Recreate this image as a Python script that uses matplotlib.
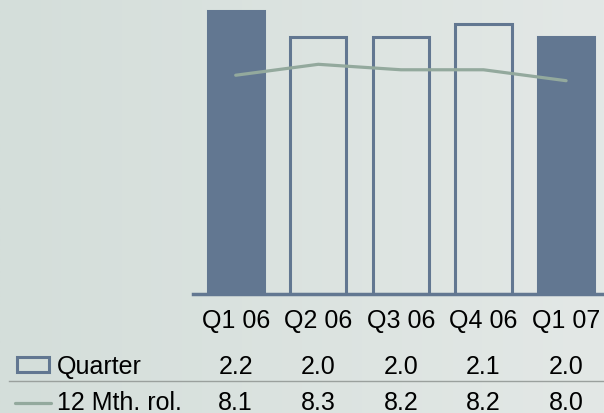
import numpy as np
import matplotlib
matplotlib.use('Agg')
import matplotlib.pyplot as plt
from matplotlib.patches import Rectangle
from matplotlib.lines import Line2D
from matplotlib.transforms import blended_transform_factory

quarters = ['Q1 06', 'Q2 06', 'Q3 06', 'Q4 06', 'Q1 07']
quarter_vals = [2.2, 2.0, 2.0, 2.1, 2.0]
rolling_vals = [8.1, 8.3, 8.2, 8.2, 8.0]
filled = [True, False, False, False, True]

bar_col = '#627791'
line_col = '#93a99d'

plt.rcParams['font.family'] = ['Liberation Sans', 'DejaVu Sans']
plt.rcParams['font.size'] = 18

fig = plt.figure(figsize=(6.04, 4.14), dpi=100)

# background gradient, darker on the left
bg = fig.add_axes([0, 0, 1, 1], zorder=-10)
grad = np.linspace(0, 1, 256).reshape(1, -1)
cmap = matplotlib.colors.LinearSegmentedColormap.from_list('bg', ['#d4deda', '#e3e8e6'])
bg.imshow(grad, aspect='auto', cmap=cmap, extent=[0, 1, 0, 1])
bg.axis('off')

ax = fig.add_axes([193 / 604, 1 - 295 / 414, 411 / 604, 295 / 414])
ax.patch.set_alpha(0)
x = np.arange(len(quarters))
for i in range(len(quarters)):
    ax.bar(x[i], quarter_vals[i], width=0.68,
           color=bar_col if filled[i] else 'none',
           edgecolor=bar_col, linewidth=2.2, zorder=2)
ax.set_xlim(-0.517, 4.459)
ax.set_ylim(0, 2.2957)
for s in ['top', 'right', 'left']:
    ax.spines[s].set_visible(False)
ax.spines['bottom'].set_color(bar_col)
ax.spines['bottom'].set_linewidth(2.5)
ax.set_yticks([])
ax.set_xticks(x)
ax.set_xticklabels(quarters)
ax.tick_params(axis='x', length=0, pad=10)

ax2 = ax.twinx()
ax2.plot(x, rolling_vals, color=line_col, linewidth=2.3, solid_capstyle='round', zorder=3)
ax2.set_ylim(4.097, 9.495)
ax2.axis('off')

# table under the chart
tr = blended_transform_factory(ax.transData, fig.transFigure)
for i in range(len(quarters)):
    fig.text(x[i], 1 - 374 / 414, '%.1f' % quarter_vals[i], transform=tr,
             ha='center', va='baseline')
    fig.text(x[i], 1 - 410 / 414, '%.1f' % rolling_vals[i], transform=tr,
             ha='center', va='baseline')

fig.text(57 / 604, 1 - 374 / 414, 'Quarter', va='baseline')
fig.text(57 / 604, 1 - 410 / 414, '12 Mth. rol.', va='baseline')

fig.add_artist(Rectangle((16.5 / 604, 1 - 372.5 / 414), 32.7 / 604, 15 / 414,
                         transform=fig.transFigure, facecolor='none',
                         edgecolor=bar_col, linewidth=2.2))
fig.add_artist(Line2D([15 / 604, 51 / 604], [1 - 403.5 / 414] * 2,
                      transform=fig.transFigure, color=line_col, linewidth=2.3,
                      solid_capstyle='round'))
fig.add_artist(Line2D([9 / 604, 1], [1 - 381.7 / 414] * 2,
                      transform=fig.transFigure, color='#9aa09d', linewidth=1.0))

fig.savefig('out.png', dpi=100)
